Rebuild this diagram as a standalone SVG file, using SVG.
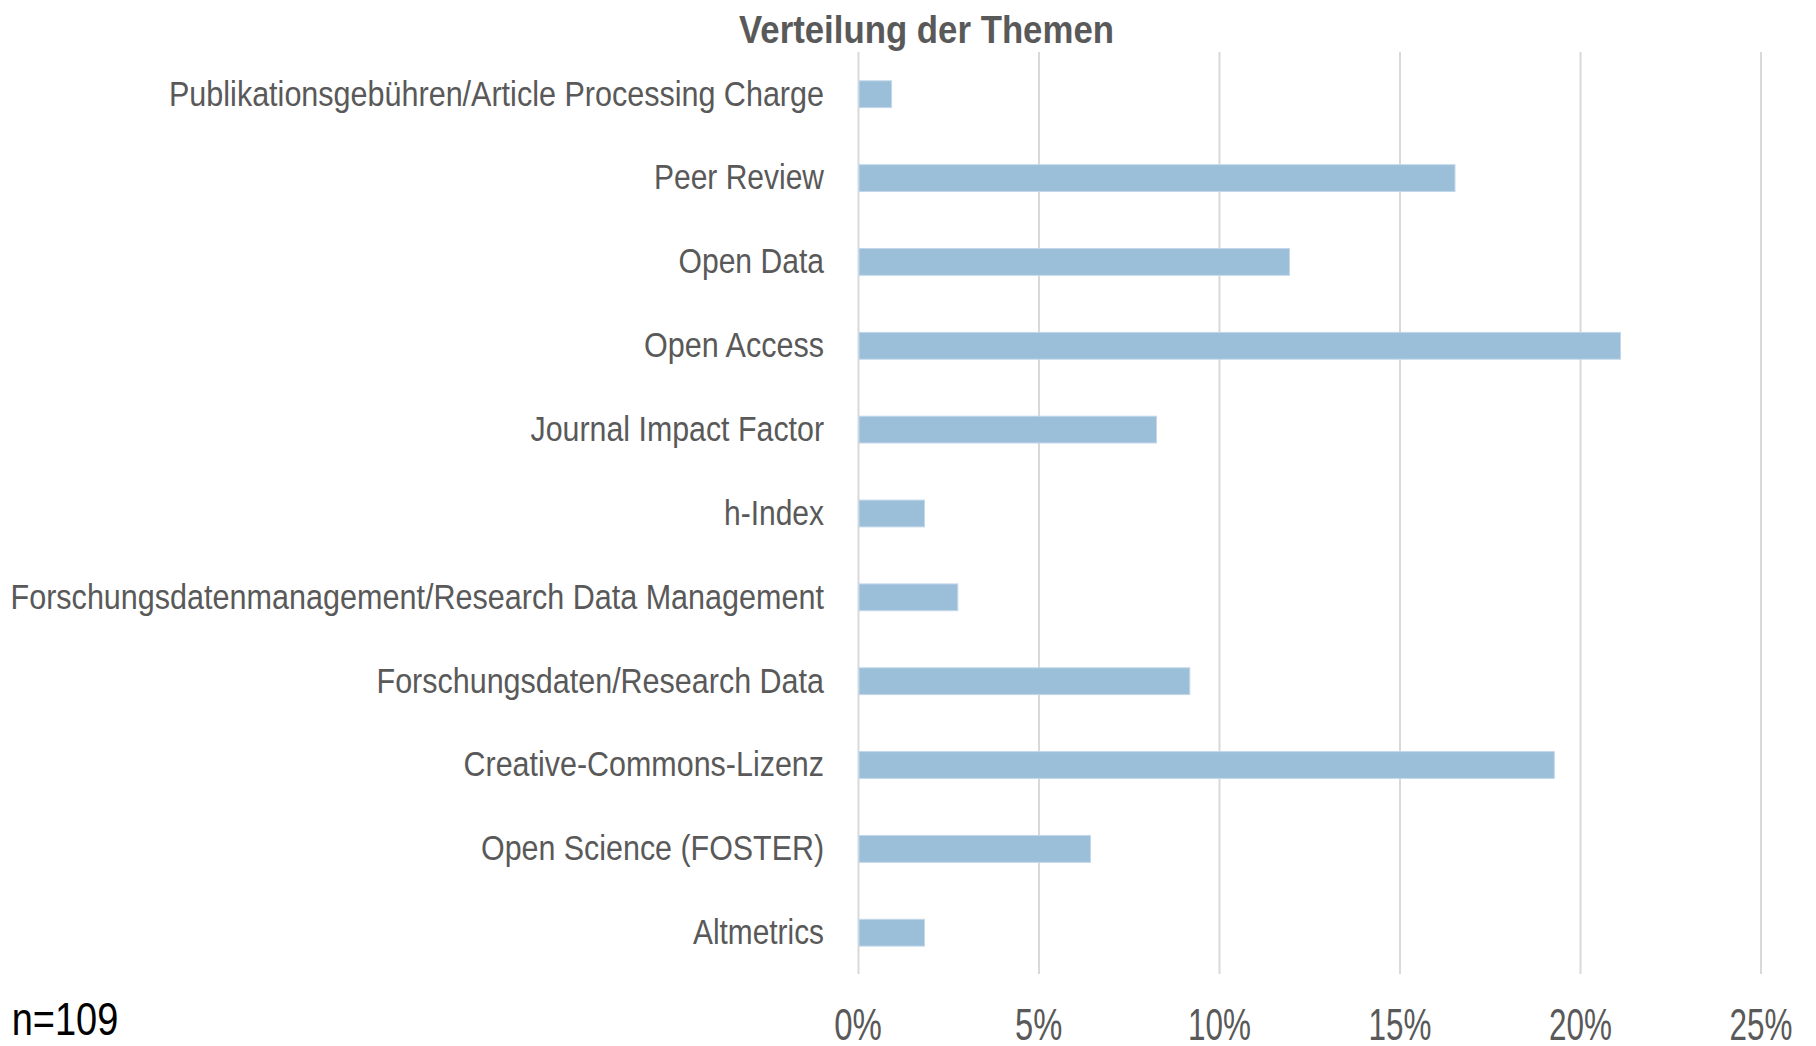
<svg xmlns="http://www.w3.org/2000/svg" width="1816" height="1046" viewBox="0 0 1816 1046">
<style>
.t{font-family:"Liberation Sans Narrow","Liberation Sans",Arial,sans-serif;fill:#595959}
.cat{font-size:35.5px;text-anchor:end}
.tick{font-size:44px;text-anchor:middle}
.title{font-size:39px;font-weight:bold;text-anchor:middle}
.grid{stroke:#d9d9d9;stroke-width:2}
.bar{fill:#9bbfd9;stroke:#c2d8ea;stroke-width:1}
</style>
<rect width="1816" height="1046" fill="#ffffff"/>
<g id="gridlines">
<line class="grid" x1="858.5" y1="52" x2="858.5" y2="974"/>
<line class="grid" x1="1039" y1="52" x2="1039" y2="974"/>
<line class="grid" x1="1219.5" y1="52" x2="1219.5" y2="974"/>
<line class="grid" x1="1400" y1="52" x2="1400" y2="974"/>
<line class="grid" x1="1580.5" y1="52" x2="1580.5" y2="974"/>
<line class="grid" x1="1761" y1="52" x2="1761" y2="974"/>
</g>
<text id="title" class="t title" x="926.5" y="43" textLength="375" lengthAdjust="spacingAndGlyphs">Verteilung der Themen</text>
<g id="bars">
<rect class="bar" x="859" y="80.8" width="32.6" height="26.8"/>
<rect class="bar" x="859" y="164.7" width="596" height="26.8"/>
<rect class="bar" x="859" y="248.5" width="430.5" height="26.8"/>
<rect class="bar" x="859" y="332.4" width="761.5" height="26.8"/>
<rect class="bar" x="859" y="416.2" width="297.5" height="26.8"/>
<rect class="bar" x="859" y="500.1" width="65.5" height="26.8"/>
<rect class="bar" x="859" y="583.9" width="98.8" height="26.8"/>
<rect class="bar" x="859" y="667.8" width="330.8" height="26.8"/>
<rect class="bar" x="859" y="751.6" width="695.3" height="26.8"/>
<rect class="bar" x="859" y="835.5" width="231.5" height="26.8"/>
<rect class="bar" x="859" y="919.3" width="65.5" height="26.8"/>
</g>
<g id="categories">
<text class="t cat" x="824" y="105.5" textLength="655" lengthAdjust="spacingAndGlyphs">Publikationsgebühren/Article Processing Charge</text>
<text class="t cat" x="824" y="189.4" textLength="170" lengthAdjust="spacingAndGlyphs">Peer Review</text>
<text class="t cat" x="824" y="273.2" textLength="145.5" lengthAdjust="spacingAndGlyphs">Open Data</text>
<text class="t cat" x="824" y="357.1" textLength="180" lengthAdjust="spacingAndGlyphs">Open Access</text>
<text class="t cat" x="824" y="440.9" textLength="293.5" lengthAdjust="spacingAndGlyphs">Journal Impact Factor</text>
<text class="t cat" x="824" y="524.8" textLength="100" lengthAdjust="spacingAndGlyphs">h-Index</text>
<text class="t cat" x="824" y="608.6" textLength="813.5" lengthAdjust="spacingAndGlyphs">Forschungsdatenmanagement/Research Data Management</text>
<text class="t cat" x="824" y="692.5" textLength="447.5" lengthAdjust="spacingAndGlyphs">Forschungsdaten/Research Data</text>
<text class="t cat" x="824" y="776.3" textLength="360.5" lengthAdjust="spacingAndGlyphs">Creative-Commons-Lizenz</text>
<text class="t cat" x="824" y="860.2" textLength="343" lengthAdjust="spacingAndGlyphs">Open Science (FOSTER)</text>
<text class="t cat" x="824" y="944" textLength="131" lengthAdjust="spacingAndGlyphs">Altmetrics</text>
</g>
<g id="axis">
<text class="t tick" x="858" y="1040" textLength="47.7" lengthAdjust="spacingAndGlyphs">0%</text>
<text class="t tick" x="1038.7" y="1040" textLength="47.3" lengthAdjust="spacingAndGlyphs">5%</text>
<text class="t tick" x="1219.5" y="1040" textLength="63" lengthAdjust="spacingAndGlyphs">10%</text>
<text class="t tick" x="1400" y="1040" textLength="63" lengthAdjust="spacingAndGlyphs">15%</text>
<text class="t tick" x="1580.5" y="1040" textLength="63" lengthAdjust="spacingAndGlyphs">20%</text>
<text class="t tick" x="1761" y="1040" textLength="63" lengthAdjust="spacingAndGlyphs">25%</text>
</g>
<text id="n" x="11.7" y="1035" font-family="Liberation Sans Narrow,Liberation Sans,Arial,sans-serif" font-size="46" fill="#000000" textLength="106.6" lengthAdjust="spacingAndGlyphs">n=109</text>
</svg>
